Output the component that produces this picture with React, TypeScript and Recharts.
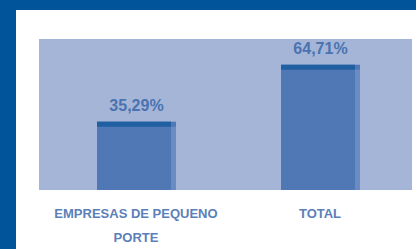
import React from "react";
import { BarChart, Bar, XAxis, YAxis, CartesianGrid, LabelList } from "recharts";

const categories = ["EMPRESAS DE PEQUENO PORTE", "TOTAL"];
const tickLines = [["EMPRESAS DE PEQUENO", "PORTE"], ["TOTAL"]];
const values = [35.29, 64.71];
const valueLabels = ["35,29%", "64,71%"];

const data = categories.map((c, i) => ({ name: c, value: values[i], label: valueLabels[i] }));

const BarShape = (props: any) => {
  const { x, y, width, height } = props;
  return (
    <g>
      <rect x={x} y={y} width={width} height={height} fill="#4f78b4" />
      <rect x={x + width - 5} y={y + 5} width={5} height={height - 5} fill="#6a8cc2" />
      <rect x={x} y={y} width={width - 5} height={5} fill="#1f5fa2" />
    </g>
  );
};

const Tick = (props: any) => {
  const { x, y, payload } = props;
  const lines = tickLines[payload.index] || [String(payload.value)];
  return (
    <g>
      {lines.map((l: string, i: number) => (
        <text key={i} x={x} y={y + 20 + i * 24} textAnchor="middle" fontSize={13} fontWeight="bold"
          fill="#5b80b9" fontFamily="Liberation Sans, Arial, sans-serif">{l}</text>
      ))}
    </g>
  );
};

export default function App() {
  return (
    <div style={{ position: "absolute", left: 0, top: 0, width: 416, height: 249, background: "#02549a" }}>
      <div style={{ position: "absolute", left: 16, top: 10, width: 400, height: 239, background: "#ffffff" }} />
      <div style={{ position: "absolute", left: 0, top: 0 }}>
        <BarChart width={416} height={249} data={data} margin={{ top: 39, right: 4, left: 39, bottom: 0 }} barSize={79}>
          <CartesianGrid fill="#a5b5d8" stroke="none" horizontal={false} vertical={false} />
          <XAxis dataKey="name" height={59} axisLine={false} tickLine={false} tick={<Tick />} interval={0}
            padding={{ left: 5, right: 0 }} />
          <YAxis hide domain={[0, 78]} />
          <Bar dataKey="value" isAnimationActive={false} shape={<BarShape />}>
            <LabelList dataKey="label" position="top" offset={11} fill="#4a73b0" fontSize={16} fontWeight="bold"
              fontFamily="Liberation Sans, Arial, sans-serif" />
          </Bar>
        </BarChart>
      </div>
    </div>
  );
}
